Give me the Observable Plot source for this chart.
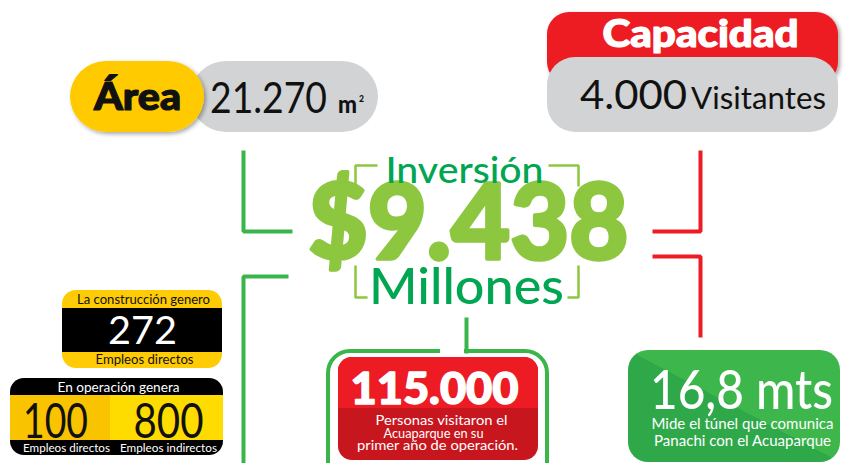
<!DOCTYPE html>
<html><head><meta charset="utf-8">
<script src="https://cdn.jsdelivr.net/npm/d3@7"></script>
<script src="https://cdn.jsdelivr.net/npm/@observablehq/plot@0.6"></script>
<style>html,body{margin:0;padding:0;background:#fff;overflow:hidden}#chart svg{display:block}</style>
</head><body><div id="chart"></div>
<script>
// ---------- data (texts and values) ----------
const areaLabel = "Área";
const areaValue = "21.270";
const areaUnit = ["m", "2"];
const capacityLabel = "Capacidad";
const capacityValue = "4.000";
const capacityUnit = "Visitantes";
const investmentLabel = "Inversión";
const investmentValue = "$9.438";
const investmentUnit = "Millones";
const constructionTitle = "La construcción genero";
const constructionValue = "272";
const constructionLabel = "Empleos directos";
const operationTitle = "En operación genera";
const operationValues = ["100", "800"];
const operationLabels = ["Empleos directos", "Empleos indirectos"];
const visitorsValue = "115.000";
const visitorsNote = ["Personas visitaron el", "Acuaparque en su", "primer año de operación."];
const tunnelValue = "16,8 mts";
const tunnelNote = ["Mide el túnel que comunica", "Panachi con el Acuaparque"];

// ---------- layout (positions, sizes, styles) ----------
const C = {yellow:"#ffcb05", gray:"#d1d3d4", red:"#ed1c24", redDark:"#c8161e", green:"#39b54a",
           lightGreen:"#8dc63f", darkGreen:"#00a651", black:"#111111", white:"#ffffff"};

const boxes = [
  {id:"areaGray", x1:190, y1:61, x2:378, y2:132, rx:36, fill:C.gray},
  {id:"areaYellow", x1:70, y1:61, x2:204, y2:132, rx:36, fill:C.yellow},
  {id:"capRed", x1:547, y1:12, x2:838, y2:84, rx:22, fill:C.red},
  {id:"capGray", x1:547, y1:57, x2:838, y2:132, rx:28, fill:C.gray},
  {id:"b1", x1:62, y1:290, x2:222, y2:368, rx:14, fill:C.yellow},
  {id:"b1band", x1:62, y1:308, x2:222, y2:352, rx:0, fill:"#000000"},
  {id:"b2", x1:10, y1:378, x2:223, y2:455, rx:14, fill:"#000000"},
  {id:"b2l", x1:10, y1:395, x2:110, y2:440, rx:0, fill:"#f9c300"},
  {id:"b2r", x1:110, y1:395, x2:223, y2:440, rx:0, fill:"#ffdc00"},
  {id:"redDark", x1:338, y1:357, x2:538, y2:460, rx:14, fill:C.redDark},
  {id:"redTop", x1:338, y1:357, x2:538, y2:430, rx:14, fill:C.red},
  {id:"redLow", x1:338, y1:408, x2:538, y2:440, rx:0, fill:C.redDark},
  {id:"tunnel", x1:628, y1:350, x2:840, y2:462, rx:20, fill:C.green}
];
const frame = [{x1:328, y1:351, x2:547, y2:520}];
const frameGap = [{x1:440, y1:345, x2:464, y2:357}];

const lines = [
  {g:"L1", c:"g", pts:[[243,150],[243,231],[292,231]]},
  {g:"L2", c:"g", pts:[[288,276],[243,276],[243,470]]},
  {g:"L3", c:"g", pts:[[466,317],[466,353]]},
  {g:"R1", c:"r", pts:[[700,150],[700,231],[652,231]]},
  {g:"R2", c:"r", pts:[[652,256],[700,256],[700,337]]},
  {g:"B1", c:"l", pts:[[355,186],[355,165],[377,165]]},
  {g:"B2", c:"l", pts:[[548,165],[578,165],[578,186]]},
  {g:"B3", c:"l", pts:[[355,265],[355,297],[367,297]]},
  {g:"B4", c:"l", pts:[[567,297],[578,297],[578,265]]}
];
const linePts = lines.flatMap(l => l.pts.map(([x,y]) => ({g:l.g, c:l.c, x, y})));

// text placement: t, x (centre), y (baseline), s (size), w (width), fill, k (weight group), sw (embolden)
const texts = [
  {t:areaLabel, x:137, y:109, s:37, w:87, fill:C.black, k:"heavy", sw:1.2},
  {t:capacityLabel, x:700, y:46, s:37, w:196, fill:C.white, k:"heavy", sw:1.2},
  {t:investmentValue, x:468, y:258, s:104, w:320, fill:C.lightGreen, k:"heavy", sw:3.5},
  {t:visitorsValue, x:434, y:403, s:44, w:168, fill:C.white, k:"heavy", sw:1.4},
  {t:areaUnit[0], x:347, y:112, s:25, w:19, fill:C.black, k:"heavy", sw:0},
  {t:areaUnit[1], x:361, y:101, s:10, w:5, fill:C.black, k:"heavy", sw:0},
  {t:areaValue, x:268, y:112, s:42, w:117, fill:C.black, k:"reg", sw:0},
  {t:capacityValue, x:633, y:108, s:41, w:107, fill:C.black, k:"reg", sw:0},
  {t:capacityUnit, x:758, y:108, s:31, w:135, fill:C.black, k:"reg", sw:0},
  {t:investmentLabel, x:464, y:182, s:37, w:158, fill:C.darkGreen, k:"med", sw:0},
  {t:investmentUnit, x:466, y:303, s:50, w:195, fill:C.darkGreen, k:"med", sw:0},
  {t:tunnelValue, x:741, y:408, s:54, w:183, fill:C.white, k:"med", sw:0},
  {t:constructionTitle, x:143, y:303, s:13, w:133, fill:C.black, k:"reg", sw:0},
  {t:constructionValue, x:142, y:343, s:39, w:69, fill:C.white, k:"reg", sw:0},
  {t:constructionLabel, x:144, y:363, s:14, w:98, fill:C.black, k:"reg", sw:0},
  {t:operationTitle, x:118, y:391, s:13, w:122, fill:C.white, k:"reg", sw:0},
  {t:operationValues[0], x:55, y:437, s:48, w:65, fill:C.black, k:"reg", sw:0},
  {t:operationValues[1], x:168, y:437, s:48, w:70, fill:C.black, k:"reg", sw:0},
  {t:operationLabels[0], x:66, y:451, s:12, w:87, fill:C.white, k:"reg", sw:0},
  {t:operationLabels[1], x:168, y:451, s:12, w:97, fill:C.white, k:"reg", sw:0},
  {t:visitorsNote[0], x:441, y:424, s:13, w:132, fill:C.white, k:"reg", sw:0},
  {t:visitorsNote[1], x:433, y:437, s:13, w:100, fill:C.white, k:"reg", sw:0},
  {t:visitorsNote[2], x:437, y:449, s:13, w:161, fill:C.white, k:"reg", sw:0},
  {t:tunnelNote[0], x:742, y:428, s:16, w:182, fill:C.white, k:"reg", sw:0},
  {t:tunnelNote[1], x:742, y:445, s:16, w:177, fill:C.white, k:"reg", sw:0}
];
const weights = {heavy:900, med:500, reg:400};
const groups = Object.keys(weights);

const textMarks = groups.map(k => Plot.text(texts.filter(d => d.k === k), {
  x:"x", y:"y", text:"t", fontSize:"s", fill:"fill", textAnchor:"middle", lineAnchor:"bottom",
  fontFamily:"Lato", fontWeight:weights[k]
}));

const chart = Plot.plot({
  width:846, height:463, margin:0,
  x:{domain:[0,846], range:[0,846], axis:null},
  y:{domain:[0,463], range:[0,463], axis:null},
  color:{type:"identity"},
  style:{background:"#ffffff", overflow:"hidden"},
  marks:[
    Plot.rect(boxes, {x1:"x1", y1:"y1", x2:"x2", y2:"y2", fill:"fill"}),
    Plot.rect(frame, {x1:"x1", y1:"y1", x2:"x2", y2:"y2", fill:"none", stroke:C.green, strokeWidth:4, rx:22}),
    Plot.rect(frameGap, {x1:"x1", y1:"y1", x2:"x2", y2:"y2", fill:"#ffffff"}),
    Plot.line(linePts.filter(d => d.c === "g"), {x:"x", y:"y", z:"g", stroke:C.green, strokeWidth:4, strokeLinejoin:"miter", strokeLinecap:"butt"}),
    Plot.line(linePts.filter(d => d.c === "r"), {x:"x", y:"y", z:"g", stroke:C.red, strokeWidth:4, strokeLinejoin:"miter", strokeLinecap:"butt"}),
    Plot.line(linePts.filter(d => d.c === "l"), {x:"x", y:"y", z:"g", stroke:C.lightGreen, strokeWidth:2.5, strokeLinejoin:"miter", strokeLinecap:"butt"}),
    ...textMarks
  ]
});

// post-process: per-box corner radius, gradient, shadows, exact text widths
const svg = d3.select(chart);
const defs = svg.insert("defs", ":first-child");
const lg = defs.append("linearGradient").attr("id","tunnelGrad")
  .attr("x1","0").attr("y1","1").attr("x2","1").attr("y2","0");
[["0","#2fa84a"],["0.5","#2fa84a"],["0.5","#3db64b"],["1","#3db64b"]]
  .forEach(([o,c]) => lg.append("stop").attr("offset",o).attr("stop-color",c));
const f = defs.append("filter").attr("id","shadow").attr("x","-20%").attr("y","-20%").attr("width","140%").attr("height","160%");
f.append("feDropShadow").attr("dx","2").attr("dy","2").attr("stdDeviation","2").attr("flood-color","#000").attr("flood-opacity","0.35");

const rectGroups = svg.selectAll('g[aria-label="rect"]').nodes();
d3.select(rectGroups[0]).selectAll("rect").each(function(_, i) {
  const b = boxes[i];
  const r = d3.select(this).attr("rx", b.rx).attr("ry", b.rx);
  if (b.id === "tunnel") r.attr("fill", "url(#tunnelGrad)");
  if (b.id === "areaYellow" || b.id === "capRed") r.attr("filter", "url(#shadow)");
});
const textGroups = svg.selectAll('g[aria-label="text"]').nodes();
groups.forEach((k, gi) => {
  const rows = texts.filter(d => d.k === k);
  d3.select(textGroups[gi]).selectAll("text").each(function(_, i) {
    const d = rows[i];
    const t = d3.select(this).attr("textLength", d.w).attr("lengthAdjust", "spacingAndGlyphs");
    if (d.sw) t.attr("stroke", d.fill).attr("stroke-width", d.sw).attr("stroke-linejoin", "round");
  });
});

document.getElementById("chart").appendChild(chart);
</script>
</body></html>
